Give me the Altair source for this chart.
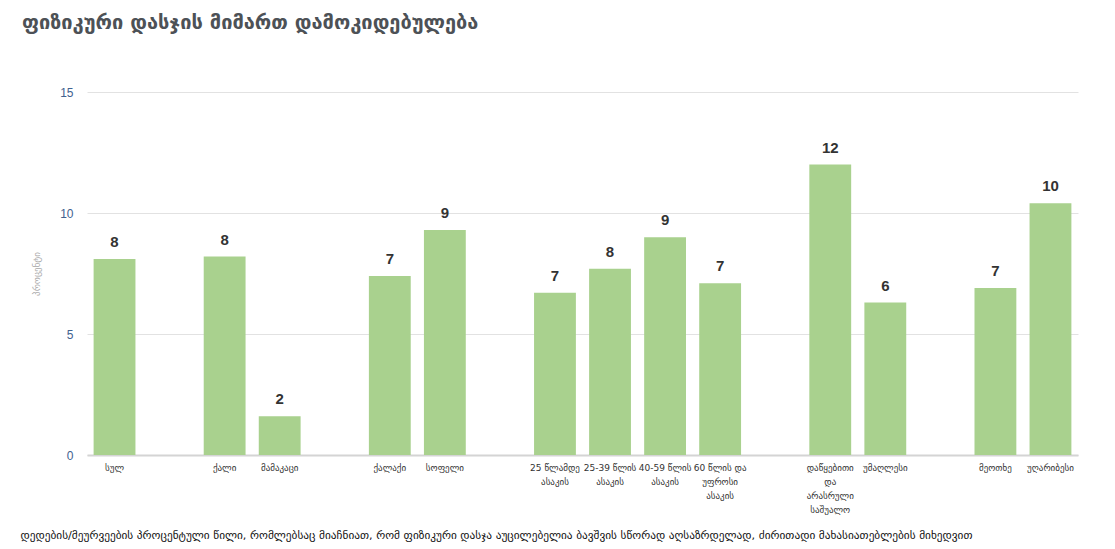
import altair as alt
import pandas as pd

title_text = "ფიზიკური დასჯის მიმართ დამოკიდებულება"
footnote = ("დედების/მეურვეების პროცენტული წილი, რომლებსაც მიაჩნიათ, რომ ფიზიკური დასჯა "
            "აუცილებელია ბავშვის სწორად აღსაზრდელად, ძირითადი მახასიათებლების მიხედვით")
y_title = "პროცენტი"

# slot order (blank strings are empty gap slots)
slots = [
    "სულ", " ",
    "ქალი", "მამაკაცი", "  ",
    "ქალაქი", "სოფელი", "   ",
    "25 წლამდე|ასაკის", "25-39 წლის|ასაკის", "40-59 წლის|ასაკის", "60 წლის და|უფროსი|ასაკის", "    ",
    "დაწყებითი|და|არასრული|საშუალო", "უმაღლესი", "     ",
    "მეოთხე", "უღარიბესი",
]
categories = [
    "სულ", "ქალი", "მამაკაცი", "ქალაქი", "სოფელი",
    "25 წლამდე|ასაკის", "25-39 წლის|ასაკის", "40-59 წლის|ასაკის", "60 წლის და|უფროსი|ასაკის",
    "დაწყებითი|და|არასრული|საშუალო", "უმაღლესი", "მეოთხე", "უღარიბესი",
]
values = [8.1, 8.2, 1.6, 7.4, 9.3, 6.7, 7.7, 9.0, 7.1, 12.0, 6.3, 6.9, 10.4]

df = pd.DataFrame({"cat": categories, "val": values})
df["lbl"] = df["val"].round(0).astype(int).astype(str)

geo = "DejaVu Sans"

x = alt.X(
    "cat:N",
    sort=slots,
    scale=alt.Scale(domain=slots, paddingInner=0.24, paddingOuter=0.12),
    axis=alt.Axis(
        title=footnote,
        titleFont=geo, titleFontSize=11.3, titleFontWeight="normal", titleColor="#111111",
        titleAnchor="start", titleAlign="left", titleBaseline="middle",
        titleX=-67, titleY=80,
        labelAngle=0, labelExpr="split(datum.label, '|')",
        labelFont=geo, labelFontSize=9, labelColor="#333333", labelLineHeight=14,
        labelPadding=8, ticks=False, domainColor="#d4d4d4", domainWidth=2,
        labelLimit=100,
    ),
)

y = alt.Y(
    "val:Q",
    scale=alt.Scale(domain=[0, 15], nice=False),
    axis=alt.Axis(
        values=[0, 5, 10, 15], title=y_title, titleFont=geo, titleFontSize=9,
        titleFontWeight="normal", titleColor="#a8a8a8", titlePadding=18,
        labelFont="Liberation Sans", labelFontSize=12, labelColor="#41618f",
        labelPadding=14, ticks=False, domain=False, gridColor="#e2e2e2",
    ),
)

bars = alt.Chart(df).mark_bar(color="#a9d18e").encode(x=x, y=y)
text = alt.Chart(df).mark_text(
    dy=-9, font="Liberation Sans", fontSize=15, fontWeight="bold", color="#333333",
    baseline="bottom",
).encode(x=alt.X("cat:N", sort=slots), y="val:Q", text="lbl:N")

chart = (bars + text).properties(
    width=991, height=363,
    title=alt.TitleParams(
        title_text, anchor="start", frame="group", dx=-65, font=geo, fontSize=20,
        fontWeight="bold", color="#4d5156", offset=53,
    ),
    autosize=alt.AutoSizeParams(type="none"),
    padding={"left": 79, "top": 84, "right": 20, "bottom": 92},
).configure_view(stroke=None)

chart.save("out.html", embed_options={"renderer": "svg", "actions": False})
